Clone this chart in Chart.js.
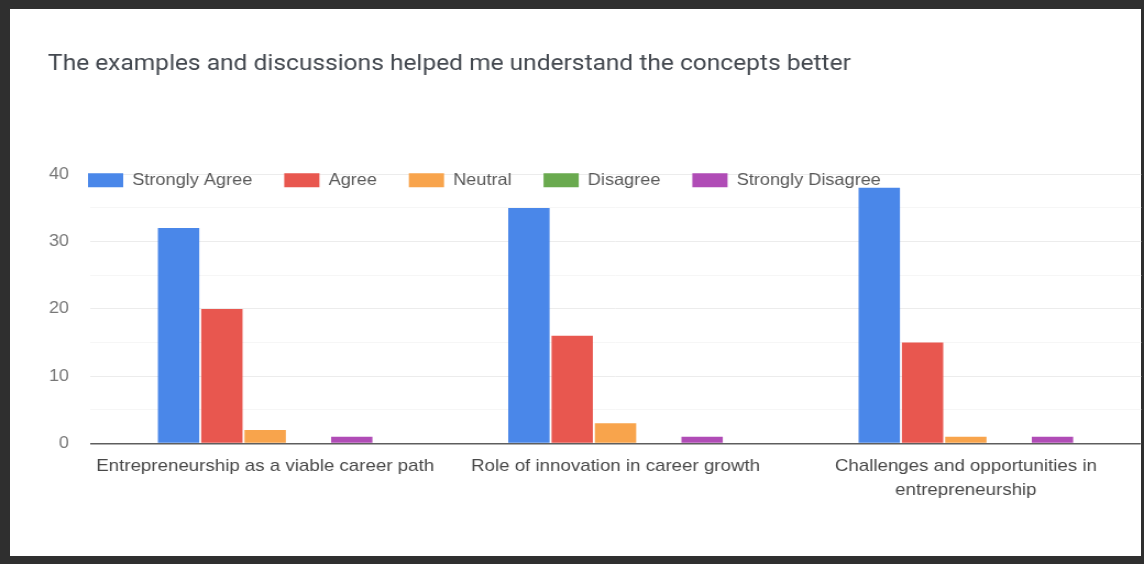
<!DOCTYPE html>
<html>
<head>
<meta charset="utf-8">
<script src="https://cdn.jsdelivr.net/npm/chart.js@4"></script>
<style>
html,body{margin:0;padding:0;width:1144px;height:564px;overflow:hidden;background:#2f2f2f;}
#paper{position:absolute;left:10px;top:9px;width:1131px;height:547px;background:#ffffff;}
#wrap{position:absolute;left:0;top:0;width:1040px;height:564px;transform:scaleX(1.1);transform-origin:0 0;}
</style>
</head>
<body>
<div id="paper"></div>
<div id="wrap"><canvas id="c"></canvas></div>
<script>
// ---- data ----
const titleText = 'The examples and discussions helped me understand the concepts better';
const categories = [
  'Entrepreneurship as a viable career path',
  'Role of innovation in career growth',
  ['Challenges and opportunities in', 'entrepreneurship']
];
const seriesNames = ['Strongly Agree', 'Agree', 'Neutral', 'Disagree', 'Strongly Disagree'];
const stronglyAgree = [32, 35, 38];
const agree = [20, 16, 15];
const neutral = [2, 3, 1];
const disagree = [0, 0, 0];
const stronglyDisagree = [1, 1, 1];
const yTickLabels = [0, 10, 20, 30, 40];
const seriesColors = ['#4a87e9', '#e8574f', '#f8a44c', '#6aaa4f', '#b04cb6'];

const seriesValues = [stronglyAgree, agree, neutral, disagree, stronglyDisagree];

const legendShift = {
  id: 'legendShift',
  afterLayout(chart) {
    const lg = chart.legend;
    if (!lg) return;
    const ca = chart.chartArea;
    const pad = lg.options.labels.padding;
    lg.left = ca.left - pad - 1.8;
    lg.top = ca.top - pad - 2.2;
    lg.right = chart.width;
    lg.bottom = lg.top + lg.height + 20;
  }
};

new Chart(document.getElementById('c'), {
  type: 'bar',
  data: {
    labels: categories,
    datasets: seriesNames.map((name, i) => ({
      label: name,
      data: seriesValues[i],
      backgroundColor: seriesColors[i],
      borderWidth: 0,
      categoryPercentage: 0.618,
      barPercentage: 0.955
    }))
  },
  options: {
    responsive: true,
    maintainAspectRatio: false,
    animation: false,
    devicePixelRatio: 1,
    layout: { padding: { left: 43.6, right: 2.7, top: 0, bottom: 0 } },
    plugins: {
      tooltip: { enabled: false },
      title: {
        display: true,
        text: titleText,
        align: 'start',
        color: '#43484f',
        font: { family: 'Roboto', size: 22.3, weight: 'normal', lineHeight: 1.2 },
        padding: { top: 51, bottom: 41 }
      },
      legend: {
        display: true,
        position: 'top',
        fullSize: false,
        align: 'start',
        labels: {
          boxWidth: 32,
          boxHeight: 14,
          padding: 29,
          color: '#595959',
          font: { family: '"Liberation Sans", Arial, sans-serif', size: 16.5 }
        }
      }
    },
    scales: {
      x: {
        grid: { display: false, drawTicks: false },
        border: { display: false },
        ticks: {
          autoSkip: false,
          maxRotation: 0,
          minRotation: 0,
          padding: 10,
          color: '#484848',
          font: { family: '"Liberation Sans", Arial, sans-serif', size: 17, lineHeight: 1.45 }
        },
        afterFit: (s) => { s.height = 120.5; }
      },
      y: {
        min: 0,
        max: 40,
        border: { display: false },
        grid: {
          drawTicks: false,
          color: (ctx) => ctx.tick && ctx.tick.value === 0 ? '#5e5e5e' : (yTickLabels.includes(ctx.tick && ctx.tick.value) ? '#ececec' : '#f6f6f6'),
          lineWidth: (ctx) => ctx.tick && ctx.tick.value === 0 ? 1.6 : 1
        },
        ticks: {
          stepSize: 5,
          padding: 19,
          color: '#777777',
          font: { family: '"Liberation Sans", Arial, sans-serif', size: 16.5 },
          callback: (v) => yTickLabels.includes(v) ? String(v) : ''
        },
        afterFit: (s) => { s.width = 38.2; }
      }
    }
  },
  plugins: [legendShift]
});
</script>
</body>
</html>
